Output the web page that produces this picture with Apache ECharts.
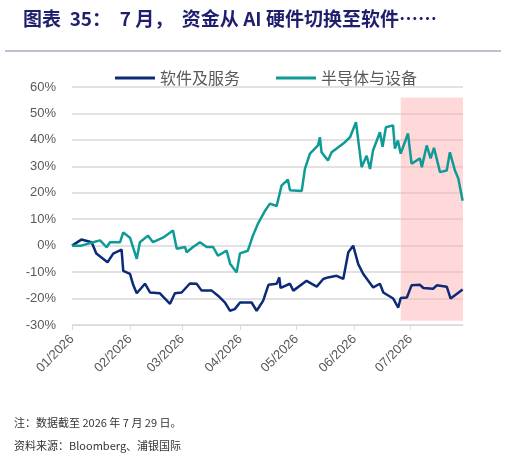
<!DOCTYPE html><html><head><meta charset="utf-8"><script src="https://cdn.jsdelivr.net/npm/echarts@6/dist/echarts.min.js"></script>
<style>body{margin:0}#c{width:506px;height:461px}</style></head><body><div id="c"></div><script>
// x = days since 2026-01-01
const monthTicks=[0,31,59,90,120,151,181];
const monthLabels=['01/2026','02/2026','03/2026','04/2026','05/2026','06/2026','07/2026'];
const semiDays=[0,5,11.2,15,18.5,20.3,25.7,27.4,31,34.6,36.3,40.6,43.3,48.6,54,56,60.4,61.3,64.7,68.4,72,75.4,78,82.7,84.5,88,89.8,94,96.7,99.4,103,105.8,109.4,112,115.4,116.5,122.8,124.5,127.2,131.5,132.5,133.4,136.8,138.8,145,148.6,151.8,154.8,157.5,159.3,160.9,164.6,166,167.8,171.6,172.6,174.2,175.7,179.6,181.5,186,187,189.6,191.7,193.5,196.7,200.3,202,204.7,206.5,208.8];
const semiVals=[0,0,1.3,2,-0.6,1.3,1.3,5,3,-5,1.3,3.8,1.3,3,5.7,-1.2,-0.5,-2.5,-0.5,1.3,-0.5,-0.5,-3.8,-1.9,-6.8,-10.1,-2.9,-1.9,3.8,8.3,13,15.9,15,22.7,25,21,20.7,29,34.8,37.9,41,35.3,32.2,35.3,38.6,41,46.7,29.7,34,29,36,42.9,37.4,44.8,45.5,36.7,39.8,34.8,42.4,31,33,29.7,37.9,33,37,27.8,28.4,35.3,28.4,25.4,17];
const softDays=[0,5,10.5,13,19,22,26.5,27.4,31,32.8,34.6,39,41.7,47,52.4,55,58.6,63,66.6,69.3,74.7,78.2,81.8,84.4,87,89.8,96,98.7,102.2,105,109.4,110.8,111.5,116.5,118.3,125.4,130.8,134.3,136.8,141.5,145,147.7,150.3,153,155.7,161,164.6,166.4,171.7,174.4,175.7,179,181.5,186,187.8,193,195,200.3,202.4,208.8];
const softVals=[0,2.3,1.3,-3,-6.3,-3,-1.5,-9.5,-10.7,-15,-18,-14.4,-17.7,-18,-22,-18,-17.7,-14.3,-14.4,-17,-17,-19,-21.5,-24.6,-24,-21.5,-21.5,-24.6,-20.8,-14.8,-14.4,-12,-16,-14.4,-17,-13.3,-15.5,-12.6,-12,-11.4,-12.6,-2.5,0,-7,-10.7,-15.8,-14.4,-17.7,-20,-23.4,-19.8,-19.6,-15,-14.8,-16,-16.3,-15,-15.5,-20,-16.6];
const zip=(a,b)=>a.map((d,i)=>[d,b[i]]);
const c=echarts.init(document.getElementById('c'));
const lbl={color:'#595959',fontSize:13,fontFamily:'Liberation Sans'};
c.setOption({
 animation:false,
 title:{text:'图表  35：  7 月，  资金从 AI 硬件切换至软件……',left:18,top:4,textStyle:{color:'#1f1f6e',fontSize:19,fontWeight:'bold',fontFamily:'Noto Sans CJK SC'}},
 graphic:[{type:'line',shape:{x1:5,y1:51,x2:501,y2:51},style:{stroke:'#8080a8',lineWidth:1}},
  {type:'text',left:14,top:417,style:{text:'注：数据截至 2026 年 7 月 29 日。',fill:'#333',fontSize:11,fontFamily:'Noto Sans CJK SC'}},
  {type:'text',left:14,top:440,style:{text:'资料来源：Bloomberg、浦银国际',fill:'#333',fontSize:11,fontFamily:'Noto Sans CJK SC'}}],
 legend:{top:65,left:110,itemGap:36,itemWidth:40,itemHeight:3,icon:'rect',textStyle:{color:'#595959',fontSize:16,fontFamily:'Noto Sans CJK SC'},data:['软件及服务','半导体与设备']},
 grid:{left:72,right:43,top:87,bottom:136},
 xAxis:[{type:'value',min:0,max:209,splitLine:{show:false},axisLine:{show:false},axisTick:{show:false},
   axisLabel:Object.assign({},lbl,{rotate:45,customValues:monthTicks,formatter:v=>monthLabels[monthTicks.indexOf(v)]||'',margin:12})},
  {type:'value',min:0,max:209,position:'bottom',axisLine:{onZero:true,lineStyle:{color:'#d9d9d9'}},axisTick:{show:true,customValues:monthTicks,length:5,lineStyle:{color:'#d9d9d9'}},axisLabel:{show:false},splitLine:{show:false}}],
 yAxis:{type:'value',min:-30,max:60,interval:10,axisLine:{show:false},axisTick:{show:false},splitLine:{lineStyle:{color:'#d9d9d9',width:1.5}},axisLabel:Object.assign({},lbl,{formatter:'{value}%',margin:16})},
 series:[
  {name:'软件及服务',type:'line',data:zip(softDays,softVals),showSymbol:false,lineStyle:{color:'#0d2a78',width:2.5},itemStyle:{color:'#0d2a78'}},
  {name:'半导体与设备',type:'line',data:zip(semiDays,semiVals),showSymbol:false,lineStyle:{color:'#0f9b95',width:2.5},itemStyle:{color:'#0f9b95'}},
  {type:'line',data:[],z:10,markArea:{silent:true,itemStyle:{color:'rgba(255,170,170,0.45)'},data:[[{xAxis:175.7,yAxis:56},{xAxis:209,yAxis:-28.4}]]}}
 ]
});
</script></body></html>
